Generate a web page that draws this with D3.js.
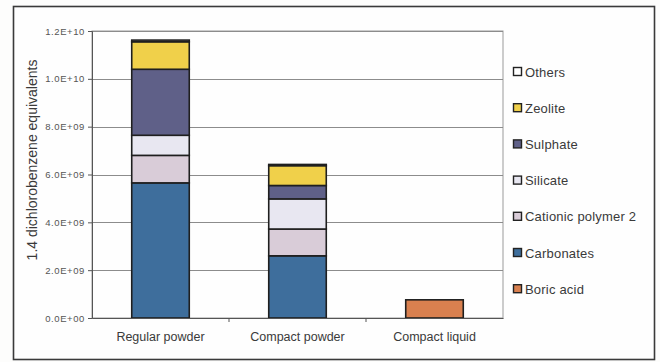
<!DOCTYPE html>
<html>
<head>
<meta charset="utf-8">
<script src="https://cdn.jsdelivr.net/npm/d3@7/dist/d3.min.js"></script>
<style>
  html, body { margin: 0; padding: 0; background: #fdfdfc; }
  svg { display: block; font-family: "Liberation Sans", Arial, sans-serif; }
</style>
</head>
<body>
<svg id="chart" width="660" height="362"></svg>
<script>
// Products compared
const categories = ["Regular powder", "Compact powder", "Compact liquid"];

// Ingredient contributions (1.4 dichlorobenzene equivalents), per product
const boricAcid       = [0, 0, 0.76e9];
const carbonates      = [5.65e9, 2.6e9, 0];
const cationicPolymer = [1.15e9, 1.12e9, 0];
const silicate        = [0.84e9, 1.26e9, 0];
const sulphate        = [2.76e9, 0.56e9, 0];
const zeolite         = [1.15e9, 0.83e9, 0];
const others          = [0.07e9, 0.05e9, 0];

// Stack order, bottom to top
const seriesNames = ["Boric acid", "Carbonates", "Cationic polymer 2", "Silicate", "Sulphate", "Zeolite", "Others"];
const seriesValues = [boricAcid, carbonates, cationicPolymer, silicate, sulphate, zeolite, others];
const seriesColors = ["#d9804f", "#3e6e9c", "#d9ccd8", "#e8e7f1", "#5f6088", "#f0d04a", "#ffffff"];

const yTicks = [0, 2e9, 4e9, 6e9, 8e9, 10e9, 12e9];
const yTickLabels = ["0.0E+00", "2.0E+09", "4.0E+09", "6.0E+09", "8.0E+09", "1.0E+10", "1.2E+10"];

const svg = d3.select("#chart");
const plot = { left: 92, right: 503, top: 31, bottom: 318 };

// Outer chart frame
svg.append("rect")
  .attr("x", 13.5).attr("y", 6.5).attr("width", 641).attr("height", 353)
  .attr("fill", "#fefefe").attr("stroke", "#3a3a3a").attr("stroke-width", 1.6);

const x = d3.scaleBand().domain(categories).range([plot.left, plot.right]).paddingInner(0.58).paddingOuter(0.29);
const y = d3.scaleLinear().domain([0, 1.2e10]).range([plot.bottom, plot.top]);

// Plot area border
svg.append("rect")
  .attr("x", plot.left).attr("y", plot.top)
  .attr("width", plot.right - plot.left).attr("height", plot.bottom - plot.top)
  .attr("fill", "none").attr("stroke", "#9a9a9a").attr("stroke-width", 1);

// Gridlines
svg.append("g").selectAll("line").data(yTicks.slice(1)).join("line")
  .attr("x1", plot.left).attr("x2", plot.right)
  .attr("y1", d => Math.round(y(d)) + 0.5).attr("y2", d => Math.round(y(d)) + 0.5)
  .attr("stroke", "#8c8c8c").attr("stroke-width", 1);

// Stacked data
const table = categories.map((c, i) => {
  const row = { category: c };
  seriesNames.forEach((n, k) => { row[n] = seriesValues[k][i]; });
  return row;
});
const stacked = d3.stack().keys(seriesNames)(table);

svg.append("g").selectAll("g").data(stacked).join("g")
  .attr("fill", (d, i) => seriesColors[i])
  .selectAll("rect").data(d => d.filter(s => s[1] - s[0] > 0)).join("rect")
  .attr("x", d => x(d.data.category))
  .attr("width", x.bandwidth())
  .attr("y", d => y(d[1]))
  .attr("height", d => y(d[0]) - y(d[1]))
  .attr("stroke", "#1f1f1f").attr("stroke-width", 1.6);

// Y axis
const yAxis = d3.axisLeft(y).tickValues(yTicks).tickFormat((d, i) => yTickLabels[i]).tickSize(4).tickPadding(3);
const gy = svg.append("g").attr("transform", `translate(${plot.left},0)`).call(yAxis);
gy.select(".domain").attr("stroke", "#555");
gy.selectAll(".tick line").attr("stroke", "#555");
gy.selectAll("text").attr("font-size", 9.5).attr("letter-spacing", 0.6).attr("fill", "#555");

// X axis
const xAxis = d3.axisBottom(x).tickSize(0).tickPadding(14);
const gx = svg.append("g").attr("transform", `translate(0,${plot.bottom})`).call(xAxis);
gx.select(".domain").attr("stroke", "#555").attr("stroke-width", 1.2);
gx.selectAll("text").attr("font-size", 12.5).attr("fill", "#3a3a3a");
// category separators on the x axis
svg.append("g").selectAll("line").data([1, 2]).join("line")
  .attr("x1", d => plot.left + d * (plot.right - plot.left) / 3)
  .attr("x2", d => plot.left + d * (plot.right - plot.left) / 3)
  .attr("y1", plot.bottom).attr("y2", plot.bottom + 4)
  .attr("stroke", "#555");

// Y axis title
svg.append("text")
  .attr("transform", "translate(37,160) rotate(-90)")
  .attr("text-anchor", "middle")
  .attr("font-size", 14).attr("fill", "#3a3a3a")
  .text("1.4 dichlorobenzene equivalents");

// Legend (top to bottom: reverse of stack order)
const legendItems = seriesNames.map((n, i) => ({ name: n, color: seriesColors[i] })).reverse();
const lg = svg.append("g").selectAll("g").data(legendItems).join("g")
  .attr("transform", (d, i) => `translate(513,${72 + i * 36.2})`);
lg.append("rect")
  .attr("x", 0.5).attr("y", -4.5).attr("width", 8).attr("height", 8)
  .attr("fill", d => d.color).attr("stroke", "#222").attr("stroke-width", 1.4);
lg.append("text")
  .attr("x", 12).attr("y", 0).attr("dy", "0.35em")
  .attr("font-size", 13).attr("letter-spacing", 0.2).attr("fill", "#3a3a3a")
  .text(d => d.name);
</script>
</body>
</html>
